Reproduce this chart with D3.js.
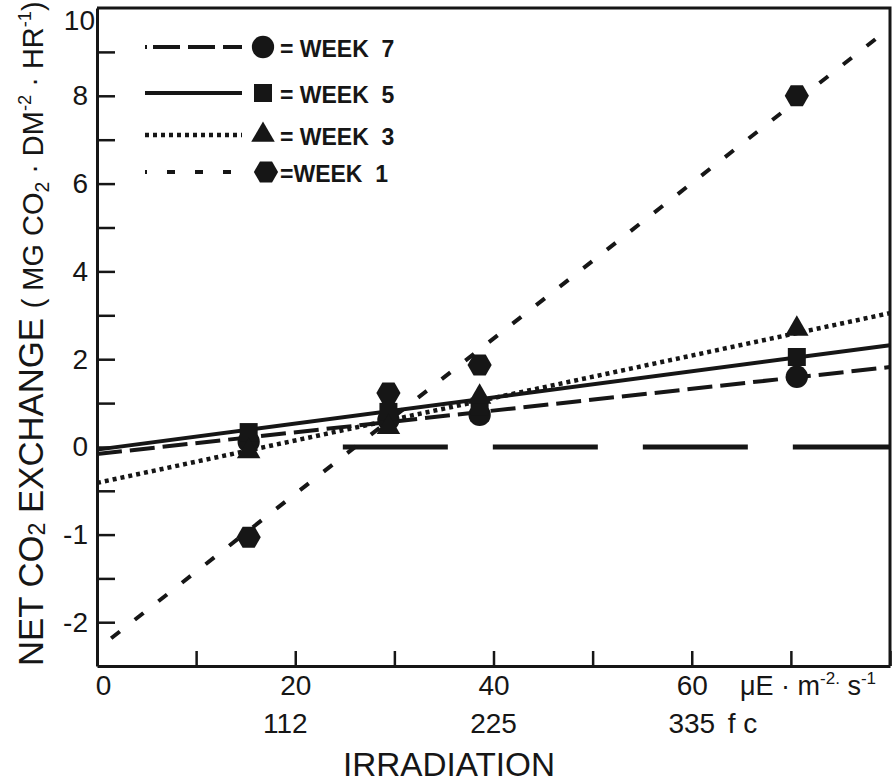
<!DOCTYPE html>
<html>
<head>
<meta charset="utf-8">
<script src="https://cdn.jsdelivr.net/npm/d3@7"></script>
<style>
  body { margin: 0; background: #fff; }
  svg { display: block; font-family: "Liberation Sans", Arial, sans-serif; }
  text { fill: #161616; white-space: pre; }
</style>
</head>
<body>
<svg id="chart" width="892" height="784"></svg>
<script>
// irradiance levels (uE m-2 s-1) used for every week
const irradiance = [15.3, 29.4, 38.6, 70.6];

// measured net CO2 exchange
const week1 = [-1.03, 1.23, 1.87, 8.0];
const week3 = [-0.05, 0.45, 1.14, 2.69];
const week5 = [0.34, 0.80, 0.92, 2.05];
const week7 = [0.12, 0.62, 0.73, 1.60];

// fitted lines, end points [irradiance, exchange]
const fit1 = [[0, -2.31], [80, 9.55]];
const fit3 = [[0, -0.41], [80, 3.05]];
const fit5 = [[0, -0.03], [80, 2.32]];
const fit7 = [[0, -0.08], [80, 1.82]];
const zeroLine = [[24.8, 0], [80, 0]];

const legendLabels = ["= WEEK  7", "= WEEK  5", "= WEEK  3", "=WEEK  1"];

const xTicks = [0, 10, 20, 30, 40, 50, 60, 70, 80];
const xLabels = [0, 20, 40, 60];
const fcTicks = [19, 40, 60];
const fcLabels = ["112", "225", "335"];
const yTicks = [-2, -1.5, -1, -0.5, 0, 1, 2, 3, 4, 5, 6, 7, 8, 9];
const yLabels = [-2, -1, 0, 2, 4, 6, 8, 10];

const ink = "#161616";
const svg = d3.select("#chart");

// the figure uses double scale below zero
const x = d3.scaleLinear().domain([0, 80]).range([97, 890]);
const y = d3.scaleLinear().domain([-2.5, 0, 10]).range([666, 447, 8]);

// x axis
const xAxis = svg.append("g")
    .attr("transform", "translate(0," + y(-2.5) + ")")
    .call(d3.axisBottom(x).tickValues(xTicks).tickSize(-15).tickSizeOuter(0).tickPadding(9)
        .tickFormat(d => xLabels.includes(d) ? String(d) : ""));
xAxis.select(".domain").attr("stroke", ink).attr("stroke-width", 3);
xAxis.selectAll(".tick line").attr("stroke", ink).attr("stroke-width", 2.5);
xAxis.selectAll(".tick text").attr("fill", ink).style("font-size", "28px").attr("font-family", null)
    .filter(d => d === 0).attr("dx", 6);

// y axis
const yAxis = svg.append("g")
    .attr("transform", "translate(" + x(0) + ",0)")
    .call(d3.axisLeft(y).tickValues(yTicks.concat([10])).tickSize(-18).tickSizeOuter(0).tickPadding(9)
        .tickFormat(d => yLabels.includes(d) ? String(d) : ""));
yAxis.select(".domain").attr("stroke", ink).attr("stroke-width", 3);
yAxis.selectAll(".tick line").attr("stroke", ink).attr("stroke-width", 2.5)
    .filter(d => d === 10).remove();
yAxis.selectAll(".tick text").attr("fill", ink).style("font-size", "28px").attr("font-family", null)
    .filter(d => d === 10).attr("dy", "0.75em").attr("dx", 7);

// top and right frame
svg.append("path")
    .attr("d", d3.line()([[x(0), y(10)], [x(80), y(10)], [x(80), y(-2.5)]]))
    .attr("fill", "none").attr("stroke", ink).attr("stroke-width", 3);

// second row: foot-candles
svg.append("g").selectAll("text")
    .data(fcTicks)
    .enter().append("text")
    .attr("x", d => x(d))
    .attr("y", 733)
    .attr("text-anchor", "middle")
    .style("font-size", "28px")
    .text((d, i) => fcLabels[i]);
svg.append("text").attr("x", x(60) + 36).attr("y", 733).style("font-size", "28px").text("f c");

// unit label
const unit = svg.append("text").attr("x", 740).attr("y", 695).style("font-size", "27px");
unit.append("tspan").text("μE · m");
unit.append("tspan").text("-2.").style("font-size", "17px").attr("dy", -11);
unit.append("tspan").text(" s").attr("dy", 11);
unit.append("tspan").text("-1").style("font-size", "17px").attr("dy", -11);

svg.append("text")
    .attr("x", 449).attr("y", 776)
    .attr("text-anchor", "middle")
    .attr("textLength", 212).attr("lengthAdjust", "spacingAndGlyphs")
    .style("font-size", "33px")
    .text("IRRADIATION");

// y title
const yTitle = svg.append("text")
    .attr("transform", "translate(43,666) rotate(-90) scale(0.965,1)")
    .style("font-size", "36px");
yTitle.append("tspan").text("NET CO");
yTitle.append("tspan").text("2").style("font-size", "24px").attr("dy", 2);
yTitle.append("tspan").text(" EXCHANGE ").attr("dy", -2);
yTitle.append("tspan").text("( MG CO").style("font-size", "30px");
yTitle.append("tspan").text("2").style("font-size", "20px").attr("dy", 6);
yTitle.append("tspan").text(" · DM").style("font-size", "30px").attr("dy", -6);
yTitle.append("tspan").text("-2").style("font-size", "19px").attr("dy", -12);
yTitle.append("tspan").text(" · HR").style("font-size", "30px").attr("dy", 12);
yTitle.append("tspan").text("-1").style("font-size", "19px").attr("dy", -12);
yTitle.append("tspan").text(")").style("font-size", "30px").attr("dy", 12);

// fitted lines
const line = d3.line().x(d => x(d[0])).y(d => y(d[1]));
const series = [
    { fit: fit7, values: week7, dash: "25 8", key: "2 6 27 8 27 8 27 8", shape: "circle" },
    { fit: fit5, values: week5, dash: null, key: null, shape: "square" },
    { fit: fit3, values: week3, dash: "4 4", key: "4 4", shape: "triangle" },
    { fit: fit1, values: week1, dash: "11 19", key: "2 20 8 20 8 20 8 20", shape: "hexagon", offset: -18 }
];

svg.append("path")
    .attr("d", line(zeroLine))
    .attr("fill", "none").attr("stroke", ink).attr("stroke-width", 5)
    .attr("stroke-dasharray", "105 45");

svg.append("g").selectAll("path")
    .data(series)
    .enter().append("path")
    .attr("d", d => line(d.fit))
    .attr("fill", "none")
    .attr("stroke", ink)
    .attr("stroke-width", d => d.dash === "4 4" ? 4.5 : 4)
    .attr("stroke-dasharray", d => d.dash)
    .attr("stroke-dashoffset", d => d.offset || 0);

// markers
const hexagon = {
    draw(context, size) {
        const r = Math.sqrt(size / (1.5 * Math.sqrt(3)));
        for (let i = 0; i < 6; i++) {
            const a = i * Math.PI / 3;
            if (i === 0) context.moveTo(r * Math.cos(a), r * Math.sin(a));
            else context.lineTo(r * Math.cos(a), r * Math.sin(a));
        }
        context.closePath();
    }
};
const shapes = {
    circle: d3.symbol(d3.symbolCircle, 390),
    square: d3.symbol(d3.symbolSquare, 324),
    triangle: d3.symbol(d3.symbolTriangle, 240),
    hexagon: d3.symbol(hexagon, 380)
};

series.forEach(s => {
    svg.append("g").selectAll("path")
        .data(s.values)
        .enter().append("path")
        .attr("transform", (d, i) => "translate(" + x(irradiance[i]) + "," + y(d) + ")")
        .attr("d", shapes[s.shape]())
        .attr("fill", ink);
});

// legend
const legendY = [47, 93, 135, 172];
const legend = svg.append("g");
series.forEach((s, i) => {
    legend.append("line")
        .attr("x1", 145).attr("x2", 242)
        .attr("y1", legendY[i]).attr("y2", legendY[i])
        .attr("stroke", ink)
        .attr("stroke-width", s.dash === "4 4" ? 4.5 : 4)
        .attr("stroke-dasharray", s.key);
    legend.append("path")
        .attr("transform", "translate(" + (s.shape === "hexagon" ? 266 : 263) + "," + legendY[i] + ")")
        .attr("d", shapes[s.shape]())
        .attr("fill", ink);
    legend.append("text")
        .attr("x", 280)
        .attr("y", legendY[i] + 10)
        .style("font-size", "23px")
        .style("font-weight", "bold")
        .text(legendLabels[i]);
});
</script>
</body>
</html>
